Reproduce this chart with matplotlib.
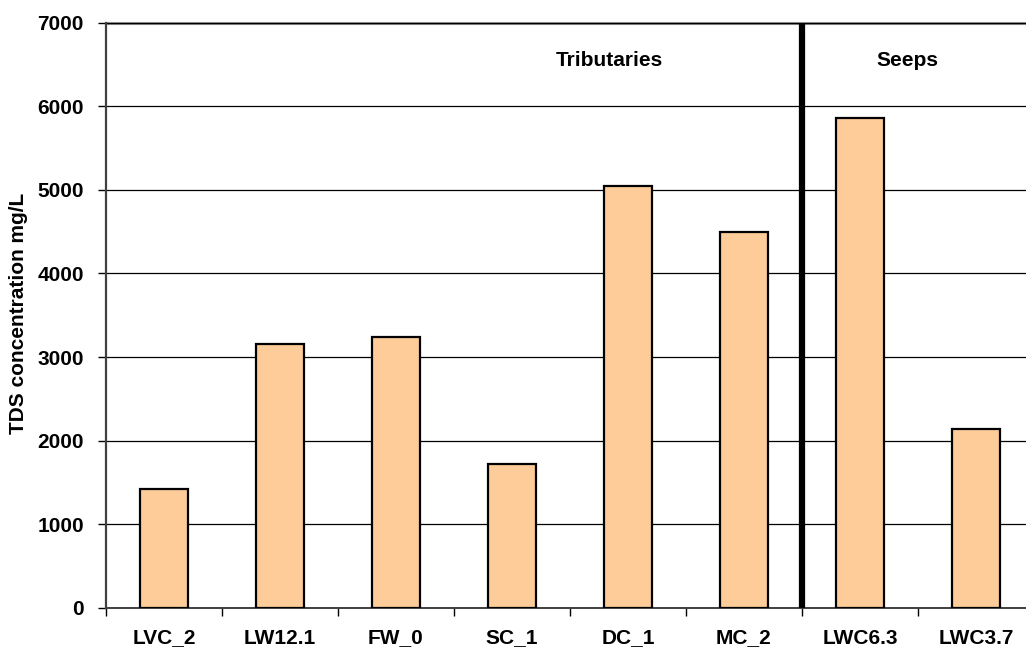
import numpy as np
import matplotlib.pyplot as plt
from matplotlib.ticker import FixedLocator

plt.rcParams['font.family'] = ['Liberation Sans', 'DejaVu Sans']
plt.rcParams['font.weight'] = 'bold'

# ── DATA ───────────────────────────────────────────────────
sites = ['LVC_2', 'LW12.1', 'FW_0', 'SC_1', 'DC_1', 'MC_2', 'LWC6.3', 'LWC3.7']
tds = [1420, 3150, 3240, 1720, 5045, 4500, 5865, 2140]
group_labels = ['Tributaries', 'Seeps']
group_split = 5.5          # between MC_2 and LWC6.3
yticks = [0, 1000, 2000, 3000, 4000, 5000, 6000, 7000]

BAR_COLOR = '#FDCC99'
FS = 15

fig = plt.figure(figsize=(10.26, 6.49), dpi=100)
ax = fig.add_axes([0.1033, 0.0636, 0.9045, 0.9014])

x = np.arange(len(sites))
ax.bar(x, tds, width=0.41, color=BAR_COLOR, edgecolor='black', linewidth=1.6, zorder=3)

ax.set_xlim(-0.5, len(sites) - 0.5)
ax.set_ylim(0, 7000)
ax.set_yticks(yticks)
ax.set_yticklabels([str(v) for v in yticks], fontsize=FS, fontweight='bold')
ax.set_xticks(x)
ax.set_xticklabels(sites, fontsize=FS, fontweight='bold')
ax.tick_params(axis='x', which='major', length=0, pad=15)
ax.xaxis.set_minor_locator(FixedLocator(np.arange(-0.5, len(sites), 1.0)))
ax.tick_params(axis='x', which='minor', length=6, width=1, direction='out')
ax.tick_params(axis='y', length=6, width=1, direction='out', pad=10)

ax.grid(axis='y', color='black', linewidth=0.9, zorder=0)
ax.axhline(7000, color='#8a8a8a', linewidth=2.2, zorder=1, clip_on=False)

for side in ['top', 'right']:
    ax.spines[side].set_visible(False)
ax.spines['left'].set_color('#404040')
ax.spines['left'].set_linewidth(1.6)
ax.spines['bottom'].set_color('#404040')
ax.spines['bottom'].set_linewidth(1.4)

# group separator and labels
ax.axvline(group_split, ymin=0, ymax=0.995, color='black', linewidth=4.5, zorder=4)
ax.text(3.84, 6550, group_labels[0], ha='center', va='center', fontsize=FS, fontweight='bold')
ax.text(6.41, 6550, group_labels[1], ha='center', va='center', fontsize=FS, fontweight='bold')

fig.text(0.018, 0.517, 'TDS concentration mg/L', rotation=90, ha='center', va='center',
         fontsize=FS, fontweight='bold')

fig.savefig('out.png', dpi=100)
